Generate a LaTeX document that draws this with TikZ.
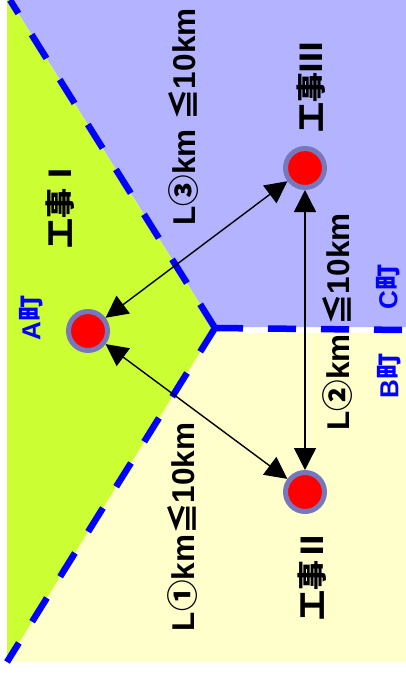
\documentclass[tikz,border=0pt]{standalone}
\usepackage{fontspec}
\setmainfont{Liberation Sans}
\newfontfamily\jp{Noto Sans CJK JP}
\usetikzlibrary{arrows.meta}
\definecolor{zoneC}{HTML}{B3B3FF}
\definecolor{zoneA}{HTML}{CCFF33}
\definecolor{zoneB}{HTML}{FFFFCC}
\definecolor{ringc}{HTML}{7777BB}
\definecolor{lineblue}{HTML}{0000FF}
\tikzset{
  border/.style={draw=lineblue, line width=6.5pt, dash pattern=on 28pt off 25pt},
  site/.style={circle, draw=ringc, fill=red, line width=5pt, minimum size=39pt, inner sep=0pt},
  dist/.style={black, line width=1.4pt, {Triangle[length=22pt,width=22pt]}-{Triangle[length=22pt,width=22pt]}},
  lbl/.style={rotate=90, font=\bfseries\fontsize{31.5}{33}\selectfont, inner sep=0pt},
  cjklbl/.style={rotate=90, font=\jp\bfseries\fontsize{30}{32}\selectfont, inner sep=0pt},
  town/.style={rotate=90, text=lineblue, font=\bfseries\fontsize{26}{28}\selectfont, inner sep=0pt}
}
\begin{document}
\begin{tikzpicture}[x=1pt, y=-1pt]
\useasboundingbox (0,0) rectangle (406,674);
\fill[white] (0,0) rectangle (406,674);
% zones
\coordinate (V) at (215,328);
\coordinate (T) at (10,0);
\coordinate (Bt) at (7,662);
\coordinate (R) at (406,330);
\fill[zoneC] (T) -- (V) -- (215,327) -- (406,327) -- (406,0) -- cycle;
\fill[zoneB] (V) -- (215,333) -- (406,333) -- (406,662) -- (Bt) -- cycle;
\fill[zoneA] (7,0) -- (T) -- (V) -- (Bt) -- cycle;
% borders
\draw[border] (V) -- (T);
\draw[border] (V) -- (Bt);
\draw[border] (V) -- (R);
% sites
\node[site] (A) at (88,331) {};
\node[site] (C) at (305,168) {};
\node[site] (B) at (305,492) {};
% distances
\draw[dist] (A) -- (C);
\draw[dist] (A) -- (B);
\draw[dist] (C) -- (B);
% labels
\node[cjklbl] (tA) at (60,203) {工事Ⅰ};
\node[cjklbl] (tC) at (311,87) {工事Ⅲ};
\node[cjklbl] (tB) at (312,575) {工事Ⅱ};
\node[lbl] (l3) at (184,117) {L{\jp ③}km {\jp ≦}10km};
\node[lbl] (l1) at (183,527) {L{\jp ①}km{\jp ≦}10km};
\node[lbl] (l2) at (338,322) {L{\jp ②}km {\jp ≦}10km};
\node[town] (tnA) at (31,318) {A{\jp 町}};
\node[town] (tnC) at (388,287) {C{\jp 町}};
\node[town] (tnB) at (389,376) {B{\jp 町}};
\end{tikzpicture}
\end{document}
